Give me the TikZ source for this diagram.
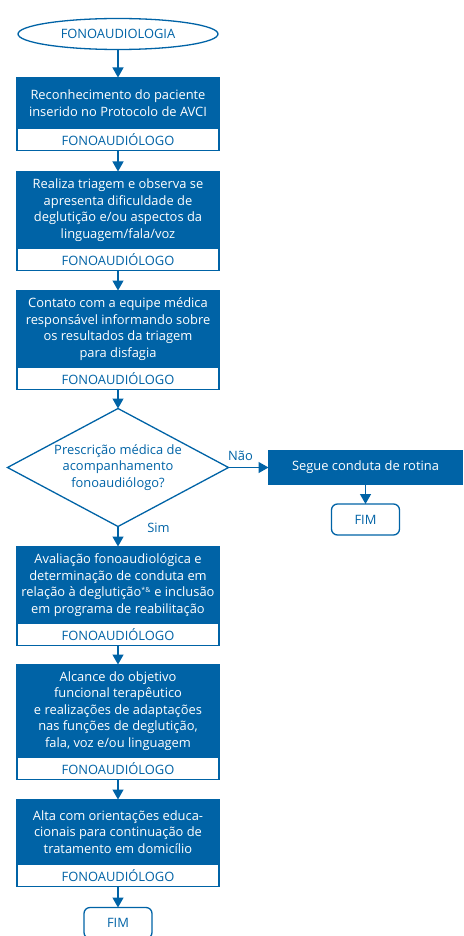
\documentclass[tikz,border=0pt]{standalone}
\usepackage{fontspec}
\setmainfont{Open Sans}
\usepackage{xcolor}
\usetikzlibrary{arrows.meta,shapes.geometric,positioning}
\definecolor{fcblue}{RGB}{0,99,166}

\begin{document}
\begin{tikzpicture}[x=1pt,y=-1pt,-{Triangle[width=11pt,length=10pt]},line width=1.3pt,draw=fcblue,
                    node distance=20pt,
                    every node/.style={font=\fontsize{12.9}{16.6}\selectfont, outer sep=0pt},
                    bluebox/.style={rectangle, fill=fcblue, draw=fcblue, text=white, minimum width=202pt, inner xsep=0pt, align=center},
                    rolebox/.style={rectangle, fill=white, draw=fcblue, text=fcblue, minimum width=202pt, minimum height=22pt, inner sep=0pt},
                    endbox/.style={rectangle, rounded corners=6pt, fill=white, draw=fcblue, text=fcblue, minimum width=68pt, minimum height=31pt}]
  \useasboundingbox (0,0) rectangle (463,936);

  \node[ellipse, draw=fcblue, text=fcblue, minimum width=200pt, minimum height=31pt, inner sep=0pt] (A) at (118,34) {FONOAUDIOLOGIA};

  \node[bluebox, minimum height=51pt, below=28pt of A]  (B)  {Reconhecimento do paciente\\inserido no Protocolo de AVCI};
  \node[rolebox, below=0pt of B]                        (Bw) {FONOAUDIÓLOGO};

  \node[bluebox, minimum height=77pt, below=21pt of Bw] (C)  {Realiza triagem e observa se\\apresenta dificuldade de\\deglutição e/ou aspectos da\\linguagem/fala/voz};
  \node[rolebox, below=0pt of C]                        (Cw) {FONOAUDIÓLOGO};

  \node[bluebox, minimum height=77pt, below=20pt of Cw] (D)  {Contato com a equipe médica\\responsável informando sobre\\os resultados da triagem\\para disfagia};
  \node[rolebox, below=0pt of D]                        (Dw) {FONOAUDIÓLOGO};

  \node[diamond, aspect=1.87, draw=fcblue, text=fcblue, align=center, minimum width=221pt, minimum height=118pt, inner sep=0pt,
        below=19pt of Dw]                               (Q)  {Prescrição médica de\\acompanhamento\\fonoaudiólogo?};

  \node[bluebox, minimum width=194pt, minimum height=33pt, right=40pt of Q] (R)  {Segue conduta de rotina};
  \node[endbox, below=20pt of R]                        (F1) {FIM};

  \node[bluebox, minimum height=77pt, below=20pt of Q]  (G)  {Avaliação fonoaudiológica e\\determinação de conduta em\\relação à deglutição\textsuperscript{\scriptsize*\&} e inclusão\\em programa de reabilitação};
  \node[rolebox, below=0pt of G]                        (Gw) {FONOAUDIÓLOGO};

  \node[bluebox, minimum height=93pt, below=19pt of Gw] (H)  {Alcance do objetivo\\funcional terapêutico\\e realizações de adaptações\\nas funções de deglutição,\\fala, voz e/ou linguagem};
  \node[rolebox, below=0pt of H]                        (Hw) {FONOAUDIÓLOGO};

  \node[bluebox, minimum height=65pt, below=20pt of Hw] (I)  {Alta com orientações educa-\\cionais para continuação de\\tratamento em domicílio};
  \node[rolebox, below=0pt of I]                        (Iw) {FONOAUDIÓLOGO};

  \node[endbox, below=21pt of Iw]                       (F2) {FIM};

  \draw (A) -- (B);
  \draw (Bw) -- (C);
  \draw (Cw) -- (D);
  \draw (Dw) -- (Q);
  \draw (Q.east) -- node[pos=0.3, above=4pt, text=fcblue] {Não} (R.west);
  \draw (R) -- (F1);
  \draw (Q.south) -- node[pos=0.05, right=26pt, text=fcblue] {Sim} (G.north);
  \draw (Gw) -- (H);
  \draw (Hw) -- (I);
  \draw (Iw) -- (F2);
\end{tikzpicture}
\end{document}
